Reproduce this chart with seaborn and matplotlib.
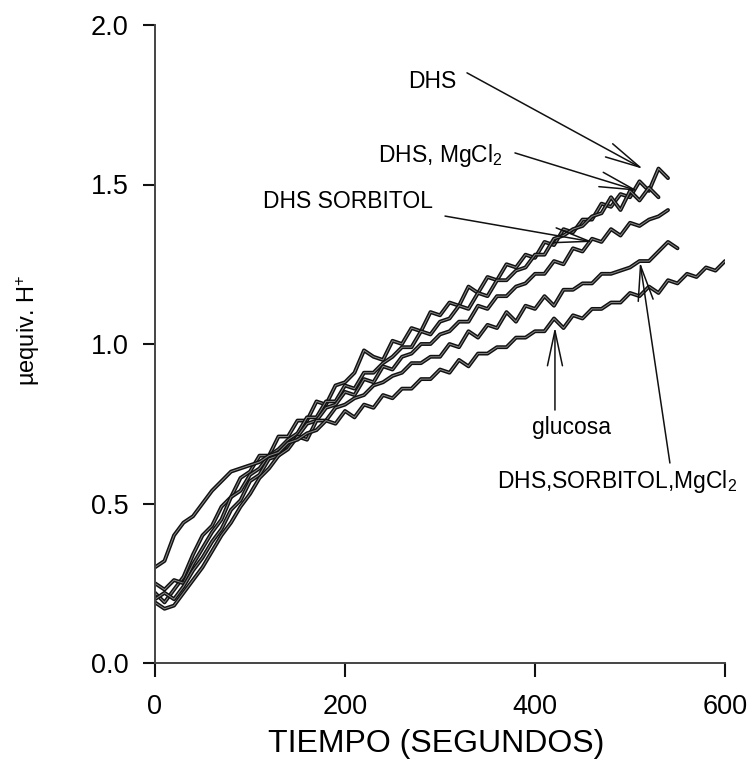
import numpy as np
import pandas as pd
import matplotlib
matplotlib.use("Agg")
import matplotlib.pyplot as plt
import seaborn as sns

# ---- data ----
t_step = 10  # sampling interval (s)

dhs = [0.22, 0.19, 0.23, 0.27, 0.34, 0.40, 0.43, 0.49, 0.52, 0.58,
       0.60, 0.65, 0.65, 0.71, 0.71, 0.76, 0.76, 0.82, 0.81, 0.87,
       0.88, 0.91, 0.98, 0.96, 0.95, 1.01, 1.00, 1.05, 1.04, 1.10,
       1.09, 1.13, 1.12, 1.18, 1.16, 1.21, 1.20, 1.25, 1.24, 1.28,
       1.27, 1.32, 1.31, 1.36, 1.35, 1.39, 1.39, 1.44, 1.43, 1.47,
       1.46, 1.51, 1.48, 1.55, 1.52]

dhs_mg = [0.25, 0.23, 0.26, 0.25, 0.31, 0.36, 0.41, 0.45, 0.52, 0.54,
          0.59, 0.61, 0.65, 0.67, 0.70, 0.72, 0.77, 0.77, 0.82, 0.82,
          0.87, 0.86, 0.91, 0.91, 0.94, 0.96, 0.99, 0.99, 1.04, 1.03,
          1.07, 1.08, 1.12, 1.11, 1.16, 1.15, 1.20, 1.20, 1.23, 1.24,
          1.28, 1.28, 1.33, 1.34, 1.36, 1.37, 1.40, 1.41, 1.46, 1.42,
          1.48, 1.45, 1.49, 1.46]

dhs_sorb = [0.20, 0.22, 0.20, 0.24, 0.29, 0.33, 0.38, 0.42, 0.48, 0.51,
            0.57, 0.59, 0.64, 0.65, 0.69, 0.71, 0.75, 0.76, 0.80, 0.81,
            0.85, 0.84, 0.89, 0.88, 0.93, 0.92, 0.96, 0.97, 1.00, 1.00,
            1.03, 1.04, 1.07, 1.07, 1.12, 1.11, 1.15, 1.15, 1.18, 1.19,
            1.22, 1.22, 1.26, 1.25, 1.30, 1.29, 1.33, 1.32, 1.36, 1.34,
            1.38, 1.37, 1.39, 1.40, 1.42]

dhs_sorb_mg = [0.19, 0.17, 0.18, 0.22, 0.26, 0.30, 0.35, 0.40, 0.44, 0.49,
               0.53, 0.58, 0.61, 0.65, 0.67, 0.71, 0.70, 0.76, 0.76, 0.80,
               0.81, 0.83, 0.84, 0.87, 0.88, 0.90, 0.91, 0.94, 0.94, 0.96,
               0.96, 1.00, 0.99, 1.04, 1.02, 1.06, 1.05, 1.10, 1.07, 1.12,
               1.11, 1.15, 1.12, 1.17, 1.17, 1.19, 1.19, 1.22, 1.22, 1.23,
               1.24, 1.26, 1.26, 1.29, 1.32, 1.30]

glucosa = [0.30, 0.32, 0.40, 0.44, 0.46, 0.50, 0.54, 0.57, 0.60, 0.61,
           0.62, 0.63, 0.65, 0.66, 0.69, 0.70, 0.72, 0.73, 0.76, 0.75,
           0.79, 0.77, 0.81, 0.80, 0.84, 0.83, 0.86, 0.86, 0.89, 0.89,
           0.92, 0.91, 0.95, 0.93, 0.97, 0.97, 0.99, 0.99, 1.02, 1.02,
           1.04, 1.04, 1.08, 1.05, 1.09, 1.08, 1.11, 1.11, 1.13, 1.13,
           1.16, 1.15, 1.18, 1.16, 1.20, 1.19, 1.22, 1.21, 1.24, 1.23,
           1.26]

series = {
    "DHS": dhs,
    "DHS, MgCl2": dhs_mg,
    "DHS SORBITOL": dhs_sorb,
    "DHS,SORBITOL,MgCl2": dhs_sorb_mg,
    "glucosa": glucosa,
}

x_ticks = [0, 200, 400, 600]
y_ticks = [0.0, 0.5, 1.0, 1.5, 2.0]
y_ticklabels = ["0.0", "0.5", "1.0", "1.5", "2.0"]

# ---- build long table ----
rows = []
for name, vals in series.items():
    for i, v in enumerate(vals):
        rows.append({"curve": name, "t": i * t_step, "v": v})
df = pd.DataFrame(rows)

sns.set_theme(style="ticks")
plt.rcParams["font.family"] = ["Liberation Sans", "DejaVu Sans"]
plt.rcParams["mathtext.fontset"] = "custom"
plt.rcParams["mathtext.rm"] = "Liberation Sans"
plt.rcParams["mathtext.it"] = "Liberation Sans"
plt.rcParams["text.color"] = "black"
plt.rcParams["xtick.labelcolor"] = "black"
plt.rcParams["ytick.labelcolor"] = "black"

fig = plt.figure(figsize=(7.51, 7.75), dpi=100)
ax = fig.add_axes([155 / 751, 1 - 663 / 775, 570 / 751, 638 / 775])

for name in series:
    sub = df[df["curve"] == name]
    sns.lineplot(data=sub, x="t", y="v", ax=ax, color="#111111", lw=2.8,
                 estimator=None, legend=False)
    sns.lineplot(data=sub, x="t", y="v", ax=ax, color="#8a8a8a", lw=0.7,
                 estimator=None, legend=False)

ax.set_xlim(0, 600)
ax.set_ylim(0, 2.0)
ax.set_xticks(x_ticks)
ax.set_xticklabels([str(v) for v in x_ticks])
ax.set_yticks(y_ticks)
ax.set_yticklabels(y_ticklabels)
ax.set_xlabel("")
ax.set_ylabel("")
for s in ["top", "right"]:
    ax.spines[s].set_visible(False)
for s in ["left", "bottom"]:
    ax.spines[s].set_color("#444444")
    ax.spines[s].set_linewidth(1.4)
ax.tick_params(axis="y", direction="out", length=9, width=1.5, color="#111111",
               labelsize=19.5, pad=10, labelcolor="black")
ax.tick_params(axis="x", direction="out", length=10, width=1.5, color="#111111",
               labelsize=19.5, pad=12, labelcolor="black")

fig.text(436 / 751, 1 - 744 / 775, "TIEMPO (SEGUNDOS)", ha="center", va="center",
         fontsize=23, color="black")
fig.text(28 / 751, 1 - 330 / 775, r"µequiv. H$^{+}$", ha="center", va="center",
         rotation=90, fontsize=17, color="black")

# ---- annotations ----
fs = 16.5
ax.text(266, 1.803, "DHS", fontsize=fs, ha="left", va="baseline", color="black")
ax.text(234.7, 1.571, r"DHS, MgCl$_2$", fontsize=fs, ha="left", va="baseline", color="black")
ax.text(113.7, 1.426, "DHS SORBITOL", fontsize=fs, ha="left", va="baseline", color="black")
ax.text(396.8, 0.718, "glucosa", fontsize=fs, ha="left", va="baseline", color="black")
ax.text(360, 0.549, r"DHS,SORBITOL,MgCl$_2$", fontsize=fs, ha="left", va="baseline",
        color="black")

arrows = [
    ((513.7, 1.549), (328.4, 1.850)),
    ((508.4, 1.480), (378.9, 1.599)),
    ((461.0, 1.320), (305.3, 1.401)),
    ((421.0, 1.053), (421.0, 0.793)),
    ((510.5, 1.257), (542.0, 0.627)),
]
for tip, start in arrows:
    ax.annotate("", xy=tip, xytext=start,
                arrowprops=dict(arrowstyle="->,head_length=1.4,head_width=0.3",
                                color="#111111", lw=1.1, shrinkA=0, shrinkB=0,
                                mutation_scale=18))

fig.savefig("out.png", dpi=100, facecolor="white")
